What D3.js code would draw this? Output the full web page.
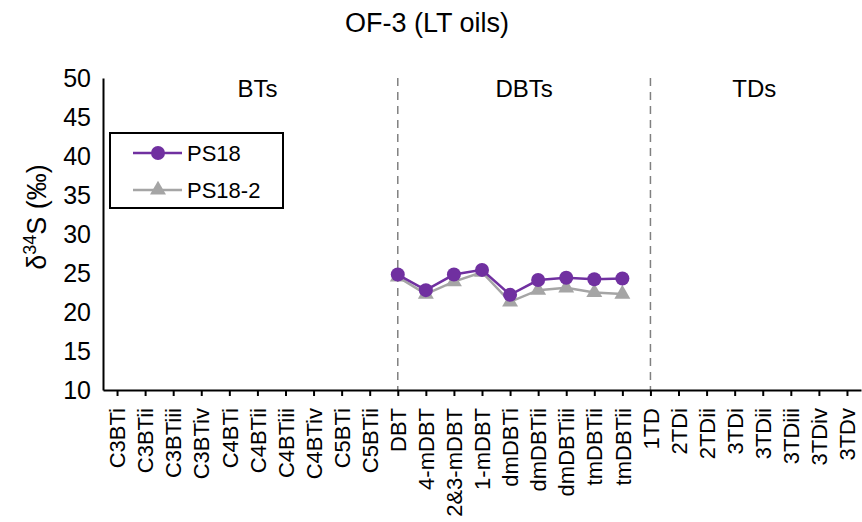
<!DOCTYPE html>
<html>
<head>
<meta charset="utf-8">
<script src="https://cdn.jsdelivr.net/npm/d3@7"></script>
<style>
  html, body { margin: 0; padding: 0; background: #fff; }
  svg { display: block; font-family: Arial, "Liberation Sans", sans-serif; }
</style>
</head>
<body>
<svg id="chart" width="862" height="522"></svg>
<script>
const categories = ["C3BTi","C3BTii","C3BTiii","C3BTiv","C4BTi","C4BTii","C4BTiii","C4BTiv","C5BTi","C5BTii",
  "DBT","4-mDBT","2&3-mDBT","1-mDBT","dmDBTi","dmDBTii","dmDBTiii","tmDBTii","tmDBTii ",
  "1TD","2TDi","2TDii","3TDi","3TDii","3TDiii","3TDiv","3TDv"];
const dbtCategories = ["DBT","4-mDBT","2&3-mDBT","1-mDBT","dmDBTi","dmDBTii","dmDBTiii","tmDBTii","tmDBTii "];
const ps18 = [24.8, 22.8, 24.8, 25.4, 22.2, 24.1, 24.4, 24.2, 24.3];
const ps18_2 = [24.5, 22.3, 23.9, 25.1, 21.3, 22.8, 23.1, 22.5, 22.3];
const yTicks = [10, 15, 20, 25, 30, 35, 40, 45, 50];
const dividers = ["DBT", "1TD"];
const sectionLabels = ["BTs", "DBTs", "TDs"];
const sectionPos = [5.5, 15.0, 23.2];
const chartTitle = "OF-3 (LT oils)";

const svg = d3.select("#chart");
const mLeft = 103, mRight = 861, mTop = 78, mBottom = 390;
const FONT = "Arial, 'Liberation Sans', sans-serif";

const x = d3.scalePoint().domain(categories).range([mLeft, mRight]).padding(0.5);
const xi = d3.scaleLinear().domain([0, categories.length]).range([mLeft, mRight]);
const y = d3.scaleLinear().domain([10, 50]).range([mBottom, mTop]);

// title
svg.append("text").attr("x", 427).attr("y", 32).attr("text-anchor", "middle")
  .attr("font-size", 27).attr("fill", "#000").text(chartTitle);

// dividers
svg.selectAll(".div").data(dividers).enter().append("line")
  .attr("x1", d => x(d)).attr("x2", d => x(d))
  .attr("y1", y(50)).attr("y2", y(10))
  .attr("stroke", "#808080").attr("stroke-width", 1.5).attr("stroke-dasharray", "8,6");

// section labels
svg.selectAll(".sec").data(sectionLabels).enter().append("text")
  .attr("x", (d, i) => xi(sectionPos[i])).attr("y", 97)
  .attr("text-anchor", "middle").attr("font-size", 24).text(d => d);

// y axis
const yAxis = d3.axisLeft(y).tickValues(yTicks).tickSize(0).tickPadding(12);
const gy = svg.append("g").attr("transform", `translate(${mLeft},0)`).call(yAxis);
gy.select(".domain").attr("stroke", "#000").attr("stroke-width", 2);
gy.selectAll("text").attr("font-size", 25).attr("fill", "#000").attr("font-family", FONT);

// x axis
const xAxis = d3.axisBottom(x).tickSize(6).tickSizeOuter(0).tickPadding(8);
const gx = svg.append("g").attr("transform", `translate(0,${mBottom})`).call(xAxis);
gx.select(".domain").attr("stroke", "#000").attr("stroke-width", 2);
gx.selectAll(".tick line").attr("stroke", "#000").attr("stroke-width", 2);
gx.selectAll("text")
  .attr("font-size", 22).attr("fill", "#000").attr("font-family", FONT)
  .attr("transform", "rotate(-90)")
  .attr("text-anchor", "end")
  .attr("x", -18).attr("y", 0).attr("dy", "0.35em")
  .text(d => d.trim());

// y axis title
const yt = svg.append("text").attr("transform", "translate(46,217) rotate(-90)")
  .attr("text-anchor", "middle").attr("font-size", 27).attr("fill", "#000");
yt.append("tspan").text("δ");
yt.append("tspan").attr("font-size", 18).attr("dy", -10).text("34");
yt.append("tspan").attr("dy", 10).text("S (‰)");

// series
const purple = "#7030A0", gray = "#A5A5A5";
const line = d3.line().x((d, i) => x(dbtCategories[i])).y(d => y(d));

svg.append("path").datum(ps18_2).attr("d", line).attr("fill", "none")
  .attr("stroke", gray).attr("stroke-width", 2.5);
const tri = d3.symbol().type(d3.symbolTriangle).size(110);
svg.selectAll(".tri").data(ps18_2).enter().append("path")
  .attr("d", tri).attr("fill", gray)
  .attr("transform", (d, i) => `translate(${x(dbtCategories[i])},${y(d)})`);

svg.append("path").datum(ps18).attr("d", line).attr("fill", "none")
  .attr("stroke", purple).attr("stroke-width", 2.5);
svg.selectAll(".circ").data(ps18).enter().append("circle")
  .attr("cx", (d, i) => x(dbtCategories[i])).attr("cy", d => y(d)).attr("r", 7)
  .attr("fill", purple);

// legend
const lg = svg.append("g");
lg.append("rect").attr("x", 110).attr("y", 133).attr("width", 173).attr("height", 75)
  .attr("fill", "#fff").attr("stroke", "#000").attr("stroke-width", 2);
const legendItems = [{name: "PS18", color: purple, shape: "circle"}, {name: "PS18-2", color: gray, shape: "tri"}];
legendItems.forEach((it, i) => {
  const ly = 153 + i * 37;
  lg.append("line").attr("x1", 133).attr("x2", 182).attr("y1", ly).attr("y2", ly)
    .attr("stroke", it.color).attr("stroke-width", 2.5);
  if (it.shape === "circle") {
    lg.append("circle").attr("cx", 158).attr("cy", ly).attr("r", 7).attr("fill", it.color);
  } else {
    lg.append("path").attr("d", tri).attr("fill", it.color).attr("transform", `translate(158,${ly})`);
  }
  lg.append("text").attr("x", 187).attr("y", ly).attr("dy", "0.35em")
    .attr("font-size", 22).attr("fill", "#000").text(it.name);
});
</script>
</body>
</html>
